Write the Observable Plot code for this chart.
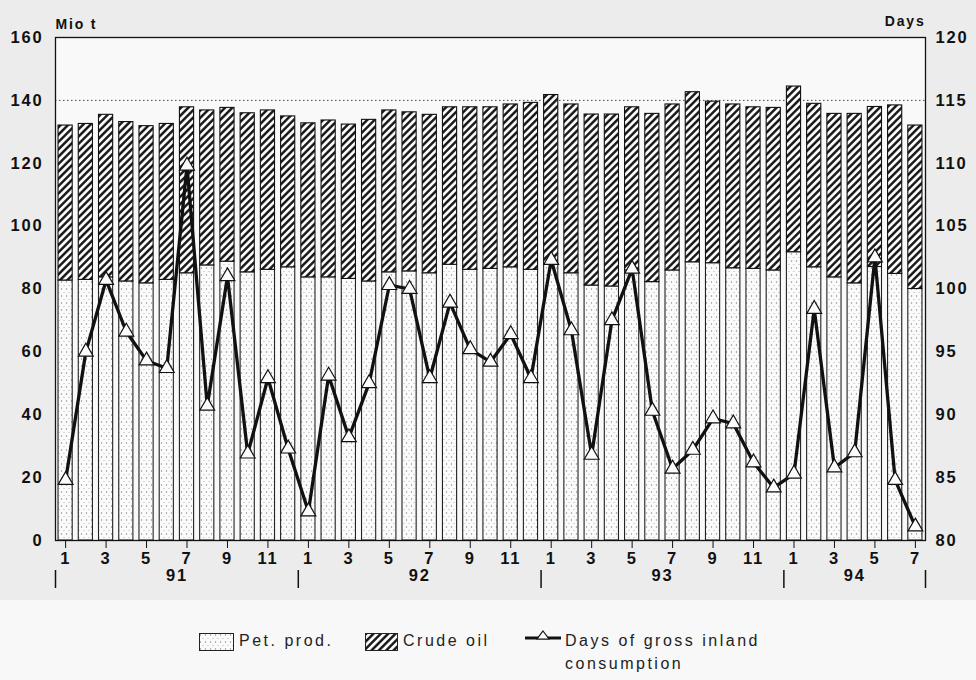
<!DOCTYPE html>
<html><head><meta charset="utf-8">
<script src="https://cdn.jsdelivr.net/npm/d3@7"></script>
<script src="https://cdn.jsdelivr.net/npm/@observablehq/plot@0.6"></script>
<style>
body{margin:0;background:#f8f8f8;font-family:"Liberation Sans",Arial,sans-serif;}
#wrap{position:relative;width:976px;height:680px;overflow:hidden;}
.lg{position:absolute;font-size:16px;letter-spacing:2.5px;color:#222;white-space:nowrap;line-height:20px;}
.sw{position:absolute;}
</style></head><body>
<svg width="0" height="0" style="position:absolute">
  <defs>
    <pattern id="dots" patternUnits="userSpaceOnUse" width="5" height="7">
      <rect width="5" height="7" fill="#fbfbfb"/>
      <circle cx="1.5" cy="2" r="0.7" fill="#888"/>
      <circle cx="4" cy="5.5" r="0.6" fill="#aaa"/>
    </pattern>
    <pattern id="hatch" patternUnits="userSpaceOnUse" width="5.2" height="5.2" patternTransform="rotate(45)">
      <rect width="5.2" height="5.2" fill="#fbfbfb"/>
      <line x1="1.3" y1="0" x2="1.3" y2="5.2" stroke="#111" stroke-width="2.4"/>
    </pattern>
  </defs>
</svg>
<div id="wrap">
  <div id="chart"></div>
  <svg class="sw" style="left:199px;top:633px" width="35" height="18"><rect x="0.5" y="0.5" width="34" height="17" fill="url(#dots)" stroke="#222"/></svg>
  <div class="lg" style="left:239px;top:631px">Pet. prod.</div>
  <svg class="sw" style="left:365px;top:633px" width="33" height="18"><rect x="0.5" y="0.5" width="32" height="17" fill="url(#hatch)" stroke="#222"/></svg>
  <div class="lg" style="left:403px;top:631px">Crude oil</div>
  <svg class="sw" style="left:524px;top:626px" width="38" height="18"><line x1="1" y1="12" x2="37" y2="12" stroke="#111" stroke-width="3"/><path d="M19,5 L25,13 L13,13 Z" fill="#fbfbfb" stroke="#111" stroke-width="1.2"/></svg>
  <div class="lg" style="left:565px;top:631px">Days of gross inland</div>
  <div class="lg" style="left:565px;top:654px">consumption</div>
</div>
<script>
// Month number of each bar (Jan 1991 – Jul 1994)
const monthNum = [1,2,3,4,5,6,7,8,9,10,11,12, 1,2,3,4,5,6,7,8,9,10,11,12, 1,2,3,4,5,6,7,8,9,10,11,12, 1,2,3,4,5,6,7];
const yearOf   = ["91","91","91","91","91","91","91","91","91","91","91","91",
                  "92","92","92","92","92","92","92","92","92","92","92","92",
                  "93","93","93","93","93","93","93","93","93","93","93","93",
                  "94","94","94","94","94","94","94"];
// Stocks, Mio t
const petProd  = [82.7,82.9,83.7,82.4,81.8,82.9, 85.0,87.5,88.7,85.3,86.1,86.9,
                  83.7,83.7,83.2,82.4,85.3,85.6, 85.0,87.7,86.1,86.4,86.9,86.1,
                  88.0,85.0,81.1,80.8,85.9,82.2, 85.9,88.5,88.2,86.6,86.4,85.9,
                  91.7,86.9,83.7,81.8,87.0,84.8,80.0];
const crudeOil = [49.3,49.6,51.7,50.7,50.0,49.6, 52.8,49.3,48.9,50.6,50.7,48.0,
                  49.0,49.9,49.1,51.4,51.5,50.6, 50.4,50.1,51.7,51.4,51.8,53.1,
                  53.7,53.7,54.4,54.7,51.9,53.5, 52.8,54.1,51.4,52.1,51.4,51.7,
                  52.7,52.0,52.0,53.9,50.9,53.6,52.0];
// Days of gross inland consumption (right axis)
const days     = [84.8,95.0,100.7,96.6,94.3,93.7, 109.8,90.7,101.0,86.9,92.9,87.3,
                  82.3,93.1,88.2,92.5,100.3,100.0, 92.9,98.9,95.2,94.2,96.4,92.9,
                  102.3,96.7,86.8,97.5,101.6,90.3, 85.7,87.2,89.7,89.3,86.2,84.2,
                  85.3,98.4,85.8,87.0,102.5,84.8,81.1];
const leftTicks  = [0,20,40,60,80,100,120,140,160];
const rightTicks = [80,85,90,95,100,105,110,115,120];
const gridValue  = 140;

const rows = petProd.map((p, i) => ({i, month: monthNum[i], year: yearOf[i], pet: p, crude: crudeOil[i], days: days[i]}));
// days -> left-axis units (80..120 days shares the 0..160 scale)
const dayToY = d => (d - rightTicks[0]) * (leftTicks[leftTicks.length-1] / (rightTicks[rightTicks.length-1] - rightTicks[0]));
const yToDay = y => y * (rightTicks[rightTicks.length-1] - rightTicks[0]) / leftTicks[leftTicks.length-1] + rightTicks[0];

const yearNames = [...new Set(yearOf)];
const yearGroups = yearNames.map(y => {
  const idx = rows.filter(r => r.year === y).map(r => r.i);
  return {year: y, first: d3.min(idx), last: d3.max(idx), center: (d3.min(idx) + d3.max(idx)) / 2};
});
const bounds = yearGroups.map(g => g.first - 0.5).concat([yearGroups[yearGroups.length-1].last + 0.5]);
const oddTicks = rows.filter(r => r.month % 2 === 1).map(r => r.i);

const half = 0.35;
const chart = Plot.plot({
  width: 976, height: 600,
  marginLeft: 55, marginRight: 51, marginTop: 37, marginBottom: 60,
  x: {domain: [-0.5, rows.length - 0.5]},
  y: {domain: [leftTicks[0], leftTicks[leftTicks.length-1]]},
  style: {background: "#ececec", fontFamily: "'Liberation Sans', Arial, sans-serif", fontSize: "16.5px", fontWeight: "bold", color: "#111", letterSpacing: "1.8px"},
  marks: [
    Plot.frame({fill: "#f9f9f9", stroke: "none"}),
    Plot.ruleY([gridValue], {stroke: "#444", strokeDasharray: "1.5,2.5", strokeWidth: 1}),
    Plot.rectY(rows, {x1: d => d.i - half, x2: d => d.i + half, y1: 0, y2: d => d.pet, fill: "url(#dots)", stroke: "#222", strokeWidth: 1.1}),
    Plot.rectY(rows, {x1: d => d.i - half, x2: d => d.i + half, y1: d => d.pet, y2: d => d.pet + d.crude, fill: "url(#hatch)", stroke: "#111", strokeWidth: 1.1}),
    Plot.line(rows, {x: "i", y: d => dayToY(d.days), stroke: "#111", strokeWidth: 3.3}),
    Plot.dot(rows, {x: "i", y: d => dayToY(d.days), symbol: "triangle", r: 5.5, fill: "#fbfbfb", stroke: "#111", strokeWidth: 1.2}),
    Plot.frame({stroke: "#111", strokeWidth: 1.3}),
    Plot.axisY(leftTicks, {anchor: "left", tickSize: 0, tickPadding: 12, label: null, tickFormat: d => d}),
    Plot.axisY(leftTicks, {anchor: "right", tickSize: 0, tickPadding: 10, label: null, tickFormat: d => yToDay(d)}),
    Plot.axisX(oddTicks, {anchor: "bottom", tickSize: 8, tickPadding: 4, label: null, tickFormat: i => monthNum[i]}),
    Plot.text(yearGroups, {x: "center", text: "year", frameAnchor: "bottom", dy: 40}),
    Plot.ruleX(bounds, {x: d => d, insetTop: 485, dy: 48, stroke: "#111", strokeWidth: 1.5}),
    Plot.text(["Mio t"], {text: d => d, frameAnchor: "top-left", textAnchor: "start", dy: -18, fontSize: 14, style: "letter-spacing:3px"}),
    Plot.text(["Days"], {text: d => d, frameAnchor: "top-right", textAnchor: "end", dy: -21, fontSize: 14})
  ]
});
document.getElementById("chart").appendChild(chart);
</script>
</body></html>
